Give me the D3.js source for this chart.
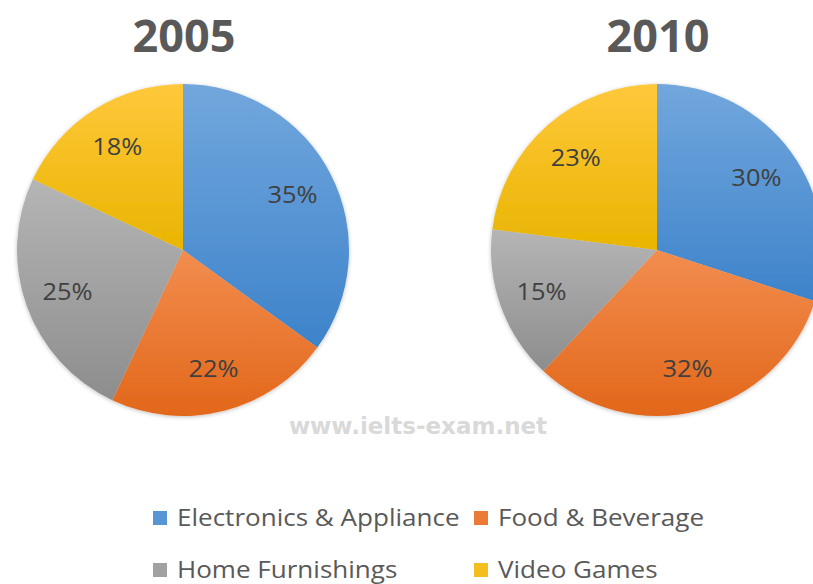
<!DOCTYPE html>
<html>
<head>
<meta charset="utf-8">
<script src="https://cdn.jsdelivr.net/npm/d3@7/dist/d3.min.js"></script>
<style>
  body { margin: 0; background: #fff; }
  svg { display: block; }
</style>
</head>
<body>
<div id="chart"></div>
<script>
(function(){
  'use strict';

  // data
  var categories = ['Electronics & Appliance', 'Food & Beverage', 'Home Furnishings', 'Video Games'];
  var years = ['2005', '2010'];
  var values2005 = [35, 22, 25, 18];
  var values2010 = [30, 32, 15, 23];

  var w = 813, h = 584,
      r = 166,
      colorsTop = ['#72a7dd', '#f28d4f', '#b5b5b5', '#ffc83c'],
      colorsBot = ['#3d83ca', '#e2671a', '#8d8d8d', '#e9b500'];

  var svg = d3.select('#chart').append('svg')
    .attr('width', w)
    .attr('height', h);

  var defs = svg.append('defs');
  categories.forEach(function(c, i) {
    var g = defs.append('linearGradient')
      .attr('id', 'grad' + i)
      .attr('x1', 0).attr('y1', 0).attr('x2', 0).attr('y2', 1);
    g.append('stop').attr('offset', '0%').attr('stop-color', colorsTop[i]);
    g.append('stop').attr('offset', '100%').attr('stop-color', colorsBot[i]);
  });
  var blur = defs.append('filter').attr('id', 'soft')
    .attr('x', '-5%').attr('y', '-5%').attr('width', '110%').attr('height', '110%');
  blur.append('feGaussianBlur').attr('in', 'SourceAlpha').attr('stdDeviation', 2).attr('result', 'b');
  blur.append('feOffset').attr('in', 'b').attr('dx', 0).attr('dy', 1).attr('result', 'o');
  blur.append('feComponentTransfer').attr('in', 'o').attr('result', 's')
    .append('feFuncA').attr('type', 'linear').attr('slope', 0.25);
  var fm = blur.append('feMerge');
  fm.append('feMergeNode').attr('in', 's');
  fm.append('feMergeNode').attr('in', 'SourceGraphic');

  var x = d3.scalePoint()
    .domain(years)
    .range([183, 657]);

  var pie = d3.pie().sort(null).value(function(d) { return d; });
  var arc = d3.arc().innerRadius(0).outerRadius(r);
  var labelArc = d3.arc().innerRadius(r * 0.74).outerRadius(r * 0.74);

  addPie('2005', values2005);
  addPie('2010', values2010);

  function addPie(year, values) {
    var cx = x(year), cy = 250;

    svg.append('text')
      .attr('x', cx + 1)
      .attr('y', 52)
      .attr('text-anchor', 'middle')
      .style('font-family', '"Open Sans", sans-serif')
      .style('font-weight', 'bold')
      .style('font-size', '45px')
      .style('fill', '#595959')
      .text(year);

    var g = svg.append('g')
      .attr('transform', 'translate(' + cx + ',' + cy + ')');

    var arcs = pie(values);

    g.append('g').attr('filter', 'url(#soft)')
      .selectAll('path')
      .data(arcs)
      .enter()
      .append('path')
      .attr('d', arc)
      .style('fill', function(d, i) { return 'url(#grad' + i + ')'; });

    g.selectAll('.lbl')
      .data(arcs)
      .enter()
      .append('text')
      .attr('class', 'lbl')
      .attr('transform', function(d) { return 'translate(' + labelArc.centroid(d) + ') scale(1.06,1)'; })
      .attr('dy', '0.35em')
      .attr('text-anchor', 'middle')
      .style('font-family', '"Open Sans", sans-serif')
      .style('font-size', '24px')
      .style('fill', '#404040')
      .text(function(d) { return d.data + '%'; });
  }

  // watermark
  svg.append('text')
    .attr('x', 418)
    .attr('y', 434)
    .attr('text-anchor', 'middle')
    .style('font-family', '"DejaVu Sans", sans-serif')
    .style('font-weight', 'bold')
    .style('font-size', '23px')
    .style('fill', '#d9d9d9')
    .text('www.ielts-exam.net');

  // legend
  var legendPos = [[153, 518], [474, 518], [153, 570], [474, 570]];
  var leg = svg.selectAll('.legend')
    .data(categories)
    .enter()
    .append('g')
    .attr('class', 'legend')
    .attr('transform', function(d, i) { return 'translate(' + legendPos[i][0] + ',' + legendPos[i][1] + ')'; });

  leg.append('rect')
    .attr('x', 0).attr('y', -7)
    .attr('width', 14).attr('height', 14)
    .style('fill', function(d, i) { return d3.interpolateRgb(colorsTop[i], colorsBot[i])(0.5); });

  leg.append('text')
    .attr('transform', 'translate(24,8) scale(1.085,1)')
    .style('font-family', '"Open Sans", sans-serif')
    .style('font-size', '24px')
    .style('fill', '#595959')
    .text(function(d) { return d; });

}());
</script>
</body>
</html>
